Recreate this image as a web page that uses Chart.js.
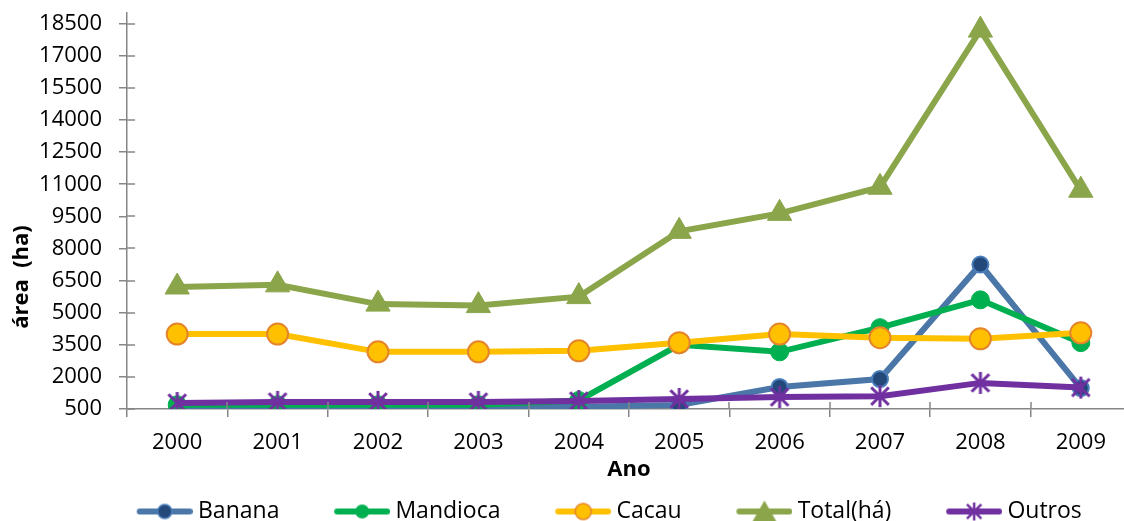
<!DOCTYPE html>
<html>
<head>
<meta charset="utf-8">
<script src="https://cdn.jsdelivr.net/npm/chart.js@4"></script>
<style>
  body { margin: 0; background: #fff; overflow: hidden; }
</style>
</head>
<body>
<canvas id="areaChart" width="1131" height="521"></canvas>
<script>
const years = ["2000", "2001", "2002", "2003", "2004", "2005", "2006", "2007", "2008", "2009"];
const yTicks = [500, 2000, 3500, 5000, 6500, 8000, 9500, 11000, 12500, 14000, 15500, 17000, 18500];
const banana = [600, 600, 600, 600, 610, 690, 1530, 1900, 7250, 1480];
const mandioca = [700, 700, 700, 700, 900, 3500, 3170, 4300, 5600, 3600];
const cacau = [4000, 4000, 3170, 3170, 3220, 3600, 4000, 3830, 3780, 4060];
const total = [6200, 6300, 5400, 5330, 5750, 8800, 9640, 10860, 18200, 10720];
const outros = [780, 830, 830, 830, 875, 970, 1060, 1100, 1720, 1500];

const FONT = "'Open Sans', sans-serif";
const axisColor = "#868686";

// excel style "*" marker (x + vertical bar)
function starMarker(s, color, lw) {
  const c = document.createElement("canvas");
  c.width = c.height = s * 2 + 4;
  const g = c.getContext("2d");
  const m = s + 2;
  g.strokeStyle = color;
  g.lineWidth = lw;
  g.beginPath();
  g.moveTo(m, m - s); g.lineTo(m, m + s);
  g.moveTo(m - s * 0.8, m - s * 0.8); g.lineTo(m + s * 0.8, m + s * 0.8);
  g.moveTo(m + s * 0.8, m - s * 0.8); g.lineTo(m - s * 0.8, m + s * 0.8);
  g.stroke();
  return c;
}
const outrosMarker = starMarker(11, "#7030A0", 3);

// legend icon: transparent left part, then line + marker (56px)
function legendIcon(lineColor, draw) {
  const c = document.createElement("canvas");
  c.width = 109;
  c.height = 26;
  const g = c.getContext("2d");
  g.strokeStyle = lineColor;
  g.lineWidth = 6;
  g.lineCap = "round";
  g.beginPath();
  g.moveTo(56, 13);
  g.lineTo(106, 13);
  g.stroke();
  draw(g, 81, 13);
  return c;
}

function circle(g, x, y, r, fill, stroke, lw) {
  g.beginPath();
  g.arc(x, y, r, 0, Math.PI * 2);
  g.fillStyle = fill;
  g.fill();
  if (stroke) {
    g.strokeStyle = stroke;
    g.lineWidth = lw;
    g.stroke();
  }
}

const icons = [
  legendIcon("#4A76A8", (g, x, y) => circle(g, x, y, 7, "#22497A", "#4A7EBB", 1.5)),
  legendIcon("#00B050", (g, x, y) => circle(g, x, y, 7, "#00B050")),
  legendIcon("#FFC000", (g, x, y) => circle(g, x, y, 8, "#FFC000", "#E4852C", 1.5)),
  legendIcon("#8BA54B", (g, x, y) => {
    g.fillStyle = "#8BA54B";
    g.beginPath();
    g.moveTo(x, y - 11);
    g.lineTo(x + 12, y + 10);
    g.lineTo(x - 12, y + 10);
    g.closePath();
    g.fill();
  }),
  legendIcon("#7030A0", (g, x, y) => g.drawImage(starMarker(9, "#7030A0", 2.5), x - 11, y - 11)),
];

// tick marks crossing the axes, y title, legend placement
const axisExtras = {
  id: "axisExtras",
  afterLayout(chart) {
    const lg = chart.legend;
    const h = lg.height;
    lg.left = 82;
    lg.top = 492;
    lg.bottom = lg.top + h;
  },
  afterDraw(chart) {
    const { ctx, chartArea, scales } = chart;
    ctx.save();
    ctx.strokeStyle = axisColor;
    ctx.lineWidth = 1.5;
    ctx.beginPath();
    scales.y.ticks.forEach((t) => {
      const py = Math.round(scales.y.getPixelForValue(t.value));
      ctx.moveTo(chartArea.left, py);
      ctx.lineTo(chartArea.left + 8, py);
    });
    const step = scales.x.width / years.length;
    for (let i = 1; i <= years.length; i++) {
      const px = Math.round(chartArea.left + i * step);
      ctx.moveTo(px, chartArea.bottom);
      ctx.lineTo(px, chartArea.bottom - 7);
    }
    ctx.stroke();

    ctx.fillStyle = "#000";
    ctx.font = "bold 22px " + FONT;
    ctx.textAlign = "center";
    ctx.textBaseline = "middle";
    ctx.translate(22, 277);
    ctx.rotate(-Math.PI / 2);
    ctx.fillText("área  (ha)", 0, 0);
    ctx.restore();
  },
};

const ctx = document.getElementById("areaChart").getContext("2d");
const areaChart = new Chart(ctx, {
  type: "line",
  data: {
    labels: years,
    datasets: [
      {
        label: "Banana",
        data: banana,
        borderColor: "#4A76A8",
        borderWidth: 6,
        pointRadius: 8,
        pointBackgroundColor: "#22497A",
        pointBorderColor: "#4A7EBB",
        pointBorderWidth: 2,
        order: 5,
      },
      {
        label: "Mandioca",
        data: mandioca,
        borderColor: "#00B050",
        borderWidth: 6,
        pointRadius: 9,
        pointBackgroundColor: "#00B050",
        pointBorderColor: "#00B050",
        pointBorderWidth: 1,
        order: 4,
      },
      {
        label: "Cacau",
        data: cacau,
        borderColor: "#FFC000",
        borderWidth: 6,
        pointRadius: 10.5,
        pointBackgroundColor: "#FFC000",
        pointBorderColor: "#E4852C",
        pointBorderWidth: 2,
        order: 3,
      },
      {
        label: "Total(há)",
        data: total,
        borderColor: "#8BA54B",
        borderWidth: 6,
        pointStyle: "triangle",
        pointRadius: 14,
        pointBackgroundColor: "#8BA54B",
        pointBorderColor: "#8BA54B",
        pointBorderWidth: 1,
        order: 2,
      },
      {
        label: "Outros",
        data: outros,
        borderColor: "#7030A0",
        borderWidth: 6,
        pointStyle: outrosMarker,
        pointRadius: 11,
        order: 1,
      },
    ],
  },
  options: {
    responsive: false,
    animation: false,
    layout: {
      autoPadding: false,
      padding: { left: 10, top: 13, right: 0, bottom: 0 },
    },
    scales: {
      x: {
        offset: true,
        afterFit(scale) {
          scale.height = 71;
        },
        grid: {
          display: true,
          offset: true,
          drawOnChartArea: false,
          tickLength: 8,
          color: axisColor,
          lineWidth: 1.5,
        },
        border: { color: axisColor, width: 1.5 },
        ticks: {
          color: "#000",
          font: { family: FONT, size: 22 },
          padding: 13,
          maxRotation: 0,
        },
        title: {
          display: true,
          text: "Ano",
          color: "#000",
          font: { family: FONT, size: 22, weight: "bold" },
          padding: { top: 0, bottom: -3 },
        },
      },
      y: {
        min: 500,
        max: 19000,
        afterFit(scale) {
          scale.width = 117;
          scale.paddingTop = 0;
          scale.paddingBottom = 0;
        },
        afterBuildTicks(scale) {
          scale.ticks = yTicks.map((v) => ({ value: v }));
        },
        grid: {
          display: true,
          drawOnChartArea: false,
          tickLength: 8,
          color: axisColor,
          lineWidth: 1.5,
        },
        border: { color: axisColor, width: 1.5 },
        ticks: {
          color: "#000",
          font: { family: FONT, size: 22 },
          padding: 17,
          callback: (value) => String(value),
        },
      },
    },
    plugins: {
      legend: {
        position: "bottom",
        align: "start",
        labels: {
          usePointStyle: true,
          pointStyleWidth: 96.5,
          color: "#000",
          font: { family: FONT, size: 23 },
          padding: 8,
          generateLabels(chart) {
            return chart.data.datasets.map((ds, i) => ({
              text: ds.label,
              pointStyle: icons[i],
              fillStyle: ds.borderColor,
              strokeStyle: ds.borderColor,
              lineWidth: 0,
              hidden: false,
              datasetIndex: i,
            }));
          },
        },
      },
      tooltip: {
        enabled: false,
      },
    },
  },
  plugins: [axisExtras],
});
</script>
</body>
</html>
